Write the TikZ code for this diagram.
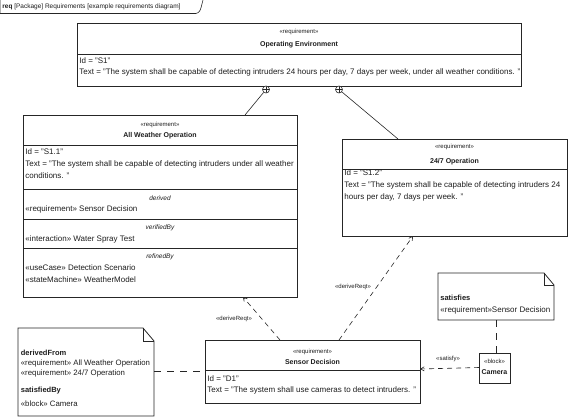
\documentclass[tikz,border=0pt]{standalone}
\usepackage{fontspec}
\setmainfont{Liberation Sans}
\usepackage{xcolor}
\definecolor{sysline}{HTML}{262626}
\definecolor{systext}{HTML}{1E1E1E}
\usetikzlibrary{arrows}

\begin{document}
\begin{tikzpicture}[x=1pt,y=-1pt,>=angle 60,semithick,line width=0.8pt,
        font=\fontsize{8}{10}\selectfont,text=systext]
            \tikzstyle{box}=[draw=sysline,fill=white,inner sep=0pt,outer sep=0pt,anchor=north west]
            \tikzstyle{txt}=[anchor=west,inner sep=0pt]
            \tikzstyle{stereo}=[inner sep=0pt,font=\fontsize{6}{7}\selectfont]
            \tikzstyle{title}=[inner sep=0pt,font=\fontsize{7}{8}\selectfont\bfseries]
            \tikzstyle{role}=[inner sep=0pt,font=\fontsize{6.5}{7}\selectfont\itshape]
            \tikzstyle{contain}=[circle,draw=sysline,fill=white,line width=0.6pt,inner sep=0pt,minimum size=7pt,
                path picture={\draw[line width=0.5pt] (path picture bounding box.north) -- (path picture bounding box.south)
                    (path picture bounding box.west) -- (path picture bounding box.east);}]
            \tikzstyle{trace}=[draw=sysline,->,dash pattern=on 5pt off 4pt,line width=0.6pt]
            \tikzstyle{anchorline}=[draw=sysline,dash pattern=on 7pt off 6pt,line width=0.6pt]
            \tikzstyle{lbl}=[inner sep=1pt,font=\fontsize{6}{7}\selectfont]

            \useasboundingbox (0,0) rectangle (573,418);

            % frame tab
            \draw[draw=sysline,line width=0.6pt] (0,0) -- (0,13.5) -- (196,13.5) .. controls (200,12) .. (203,0);
            \node[txt,font=\fontsize{6.5}{7}\selectfont] (hdr) at (2,6.5) {\textbf{req} [Package] Requirements [example requirements diagram]};

            % requirement blocks
            \node[box,minimum width=444,minimum height=63] (openv) at (77,23) {};
            \node[box,minimum width=274,minimum height=182] (allw) at (23,115) {};
            \node[box,minimum width=225,minimum height=97] (op247) at (342,139) {};
            \node[box,minimum width=215,minimum height=63] (sdec) at (205,340) {};
            \node[box,minimum width=31,minimum height=30] (cam) at (479,353) {};

            % compartments
            \draw[sysline] (77,54) -- (521,54);
            \draw[sysline] (23,145) -- (297,145) (23,189) -- (297,189) (23,219) -- (297,219) (23,248) -- (297,248);
            \draw[sysline] (342,169) -- (567,169);
            \draw[sysline] (205,370) -- (420,370);

            % Operating Environment
            \node[stereo] (openv-st) at (299,32) {«requirement»};
            \node[title] (openv-nm) at (299,45) {Operating Environment};
            \node[txt] (openv-id) at (79,60.5) {Id = "S1"};
            \node[txt] (openv-tx) at (79,72) {Text = "The system shall be capable of detecting intruders 24 hours per day, 7 days per week, under all weather conditions. "};

            % All Weather Operation
            \node[stereo] (allw-st) at (160,125) {«requirement»};
            \node[title] (allw-nm) at (160,136) {All Weather Operation};
            \node[txt] (allw-id) at (25,152) {Id = "S1.1"};
            \node[txt] (allw-tx) at (25,164) {Text = "The system shall be capable of detecting intruders under all weather};
            \node[txt] (allw-tx2) at (25,176) {conditions. "};
            \node[role] (allw-d) at (160,198) {derived};
            \node[txt] (allw-d1) at (25,209) {«requirement» Sensor Decision};
            \node[role] (allw-v) at (160,228) {verifiedBy};
            \node[txt] (allw-v1) at (25,239) {«interaction» Water Spray Test};
            \node[role] (allw-r) at (160,257) {refinedBy};
            \node[txt] (allw-r1) at (25,268) {«useCase» Detection Scenario};
            \node[txt] (allw-r2) at (25,280) {«stateMachine» WeatherModel};

            % 24/7 Operation
            \node[stereo] (op247-st) at (454.5,147) {«requirement»};
            \node[title] (op247-nm) at (454.5,161.5) {24/7 Operation};
            \node[txt] (op247-id) at (344,173) {Id = "S1.2"};
            \node[txt] (op247-tx) at (344,185) {Text = "The system shall be capable of detecting intruders 24};
            \node[txt] (op247-tx2) at (344,197) {hours per day, 7 days per week. "};

            % Sensor Decision
            \node[stereo] (sdec-st) at (312.5,352) {«requirement»};
            \node[title] (sdec-nm) at (312.5,362) {Sensor Decision};
            \node[txt] (sdec-id) at (207,379) {Id = "D1"};
            \node[txt] (sdec-tx) at (207,390) {Text = "The system shall use cameras to detect intruders. "};

            % Camera
            \node[stereo] (cam-st) at (494.5,361) {«block»};
            \node[title] (cam-nm) at (494.5,372) {Camera};

            % notes
            \node[inner sep=0pt,outer sep=0pt,anchor=north west,minimum width=136,minimum height=88] (dfnote) at (18,328) {};
            \draw[sysline,fill=white] (dfnote.north west) -- ([xshift=-11pt]dfnote.north east) -- ([yshift=-13pt]dfnote.north east)
                -- (dfnote.south east) -- (dfnote.south west) -- cycle;
            \draw[sysline,line width=0.5pt] ([xshift=-11pt]dfnote.north east) -- ([xshift=-11pt,yshift=-13pt]dfnote.north east) -- ([yshift=-13pt]dfnote.north east);
            \node[txt,font=\fontsize{7.5}{8}\selectfont\bfseries] (df-h1) at (20.5,353) {derivedFrom};
            \node[txt,font=\fontsize{7.8}{10}\selectfont] (df-l1) at (20.5,363) {«requirement» All Weather Operation};
            \node[txt,font=\fontsize{7.8}{10}\selectfont] (df-l2) at (20.5,373.5) {«requirement» 24/7 Operation};
            \node[txt,font=\fontsize{7.5}{8}\selectfont\bfseries] (df-h2) at (20.5,391) {satisfiedBy};
            \node[txt,font=\fontsize{7.8}{10}\selectfont] (df-l3) at (20.5,404) {«block» Camera};

            \node[inner sep=0pt,outer sep=0pt,anchor=north west,minimum width=116,minimum height=47] (satnote) at (438,273) {};
            \draw[sysline,fill=white] (satnote.north west) -- ([xshift=-10pt]satnote.north east) -- ([yshift=-12pt]satnote.north east)
                -- (satnote.south east) -- (satnote.south west) -- cycle;
            \draw[sysline,line width=0.5pt] ([xshift=-10pt]satnote.north east) -- ([xshift=-10pt,yshift=-12pt]satnote.north east) -- ([yshift=-12pt]satnote.north east);
            \node[txt,font=\fontsize{7.5}{8}\selectfont\bfseries] (sn-h1) at (440,298) {satisfies};
            \node[txt] (sn-l1) at (440,310) {«requirement»Sensor Decision};

            % containment
            \node[contain] (c1) at (266,89.5) {};
            \node[contain] (c2) at (339,89.5) {};
            \coordinate (allw-top) at (245,115);
            \coordinate (op247-top) at (398,139);
            \draw[sysline,line width=0.6pt] (c1) -- (allw-top);
            \draw[sysline,line width=0.6pt] (c2) -- (op247-top);

            % deriveReqt
            \coordinate (sdec-a) at (280,340);
            \coordinate (sdec-b) at (339,340);
            \coordinate (allw-bot) at (243,297);
            \coordinate (op247-bot) at (413,236);
            \path[trace] (sdec-a) -- (allw-bot);
            \path[trace] (sdec-b) -- (op247-bot);
            \node[lbl] (dr1) at (234,319) {«deriveReqt»};
            \node[lbl] (dr2) at (353,287) {«deriveReqt»};

            % satisfy
            \coordinate (cam-w) at (479,367.5);
            \coordinate (sdec-e) at (420,369);
            \path[trace] (cam-w) -- (sdec-e);
            \node[lbl] (sat) at (448,359) {«satisfy»};

            % note anchors
            \path[anchorline] (dfnote.east |- 0,371) -- (sdec.west |- 0,371);
            \path[anchorline] (satnote.south -| 496,0) -- (cam.north -| 496,0);
        \end{tikzpicture}
\end{document}
